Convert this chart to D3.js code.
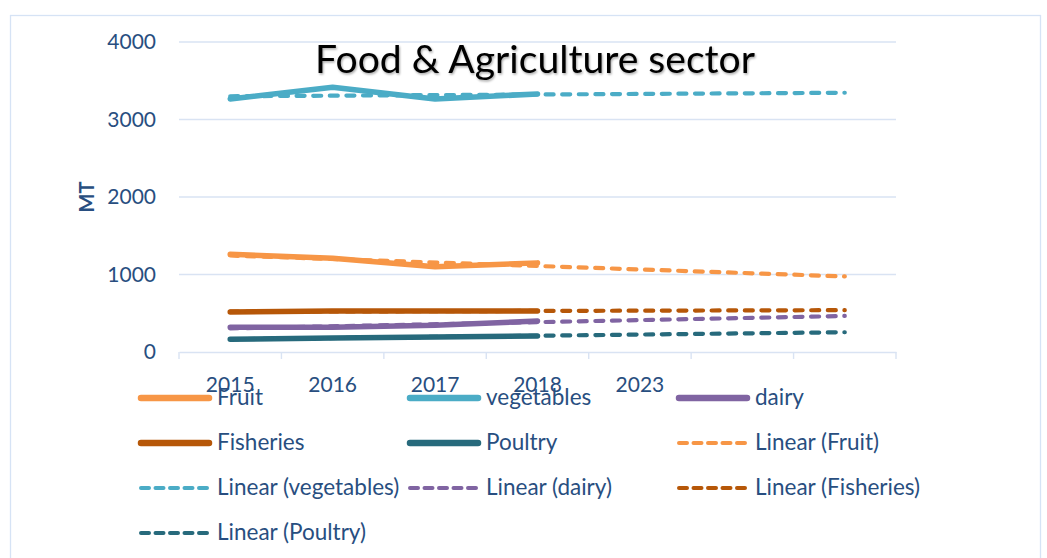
<!DOCTYPE html>
<html>
<head>
<meta charset="utf-8">
<script src="https://cdn.jsdelivr.net/npm/d3@7"></script>
<style>
  body { margin: 0; background: #fff; }
  svg { display: block; font-family: Lato, "Open Sans", sans-serif; }
</style>
</head>
<body>
<svg id="chart" width="1047" height="558"></svg>
<script>
// categories on the x axis (last two slots have no label)
var years = ["2015", "2016", "2017", "2018", "2023", "", ""];
var yTicks = [0, 1000, 2000, 3000, 4000];

var seriesNames = ["Fruit", "vegetables", "dairy", "Fisheries", "Poultry"];
var fruit = [1260, 1210, 1100, 1150];
var vegetables = [3265, 3415, 3265, 3330];
var dairy = [320, 320, 345, 400];
var fisheries = [515, 530, 530, 528];
var poultry = [165, 180, 195, 208];

// linear trend lines, value at first and at last category slot
var trendFruit = [1245, 975];
var trendVegetables = [3300, 3345];
var trendDairy = [305, 465];
var trendFisheries = [520, 540];
var trendPoultry = [165, 255];

var colors = ["#f79646", "#4bacc6", "#8064a2", "#b65708", "#276a7c"];
var textColor = "#284e80";
var gridColor = "#d9e3f3";

var svg = d3.select("#chart");

// outer chart border
svg.append("rect")
    .attr("x", 10.5).attr("y", 15.5)
    .attr("width", 1030).attr("height", 600)
    .attr("fill", "none")
    .attr("stroke", "#d6e3f5")
    .attr("stroke-width", 1.3);

let xScale = d3.scaleBand()
    .domain(d3.range(years.length))
    .range([179, 896])
    .paddingInner(0).paddingOuter(0);

let yScale = d3.scaleLinear()
    .domain([0, 4000])
    .range([352, 42]);

let cx = i => xScale(i) + xScale.bandwidth() / 2;

// gridlines
svg.append("g").selectAll("line")
    .data(yTicks.filter(d => d > 0))
    .enter().append("line")
    .attr("x1", 179).attr("x2", 896)
    .attr("y1", d => yScale(d)).attr("y2", d => yScale(d))
    .attr("stroke", gridColor).attr("stroke-width", 1.4);

// y axis labels
let yAxis = d3.axisLeft(yScale).tickValues(yTicks).tickFormat(d3.format("d")).tickSize(0).tickPadding(0);
let yG = svg.append("g").attr("transform", "translate(156,0)").call(yAxis);
yG.select(".domain").remove();
yG.selectAll("text")
    .attr("fill", textColor)
    .style("font-size", "21px")
    .style("font-family", "Lato, sans-serif");

// x axis
let xAxis = d3.axisBottom(xScale).tickFormat(i => years[i]).tickSize(0).tickPadding(0);
let xG = svg.append("g").attr("transform", "translate(0,352)").call(xAxis);
xG.select(".domain").attr("stroke", gridColor).attr("stroke-width", 1.4);
xG.selectAll("text")
    .attr("fill", textColor)
    .attr("y", 40)
    .attr("dy", 0)
    .style("font-size", "21px")
    .style("font-family", "Lato, sans-serif");
// category boundary tick marks
xG.append("g").selectAll("line")
    .data(d3.range(years.length + 1))
    .enter().append("line")
    .attr("x1", i => i < years.length ? xScale(i) : 896)
    .attr("x2", i => i < years.length ? xScale(i) : 896)
    .attr("y1", 0).attr("y2", 7)
    .attr("stroke", gridColor).attr("stroke-width", 1.4);

// axis title
svg.append("text")
    .attr("transform", "translate(94,197) rotate(-90)")
    .attr("text-anchor", "middle")
    .attr("fill", textColor)
    .style("font-size", "20px")
    .style("font-weight", "bold")
    .text("MT");

let seriesData = [fruit, vegetables, dairy, fisheries, poultry];
let trendData = [trendFruit, trendVegetables, trendDairy, trendFisheries, trendPoultry];

let line = d3.line()
    .x((d, i) => cx(i))
    .y(d => yScale(d));

svg.append("g").selectAll("path")
    .data(seriesData)
    .enter().append("path")
    .attr("d", d => line(d))
    .attr("fill", "none")
    .attr("stroke", (d, i) => colors[i])
    .attr("stroke-width", 5.5)
    .attr("stroke-linecap", "round")
    .attr("stroke-linejoin", "round");

let trendLine = d3.line()
    .x((d, i) => i === 0 ? cx(0) : cx(years.length - 1))
    .y(d => yScale(d));

svg.append("g").selectAll("path")
    .data(trendData)
    .enter().append("path")
    .attr("d", d => trendLine(d))
    .attr("fill", "none")
    .attr("stroke", (d, i) => colors[i])
    .attr("stroke-width", 4.2)
    .attr("stroke-dasharray", "8,8.6")
    .attr("stroke-linecap", "round");

// title with a faint shadow
let defs = svg.append("defs");
defs.append("filter").attr("id", "shadow")
    .attr("x", "-5%").attr("y", "-20%").attr("width", "110%").attr("height", "150%")
    .append("feDropShadow")
    .attr("dx", 1).attr("dy", 1.5).attr("stdDeviation", 1.2)
    .attr("flood-color", "#000").attr("flood-opacity", 0.35);

let title = svg.append("text")
    .attr("x", 535).attr("y", 73)
    .attr("text-anchor", "middle")
    .attr("fill", "#000")
    .attr("filter", "url(#shadow)")
    .style("font-size", "36px")
    .text("Food & Agriculture sector");
let tw = title.node().getComputedTextLength();
title.style("font-size", (36 * 440 / tw) + "px");

// legend
let legendItems = seriesNames.map((n, i) => ({ name: n, color: colors[i], dashed: false }))
    .concat(seriesNames.map((n, i) => ({ name: "Linear (" + n + ")", color: colors[i], dashed: true })));
let colX = [139, 408, 677];
let rowY = [398, 443, 488, 533];

let legend = svg.append("g").selectAll("g")
    .data(legendItems)
    .enter().append("g")
    .attr("transform", (d, i) => "translate(" + colX[i % 3] + "," + rowY[Math.floor(i / 3)] + ")");

legend.append("line")
    .attr("x1", 2).attr("x2", d => d.dashed ? 72 : 70)
    .attr("y1", 0).attr("y2", 0)
    .attr("stroke", d => d.color)
    .attr("stroke-width", d => d.dashed ? 4 : 6.5)
    .attr("stroke-linecap", "round")
    .attr("stroke-dasharray", d => d.dashed ? "8,6.5" : null);

legend.append("text")
    .attr("x", 78).attr("y", 7)
    .attr("fill", textColor)
    .style("font-size", "22.5px")
    .text(d => d.name);
</script>
</body>
</html>
